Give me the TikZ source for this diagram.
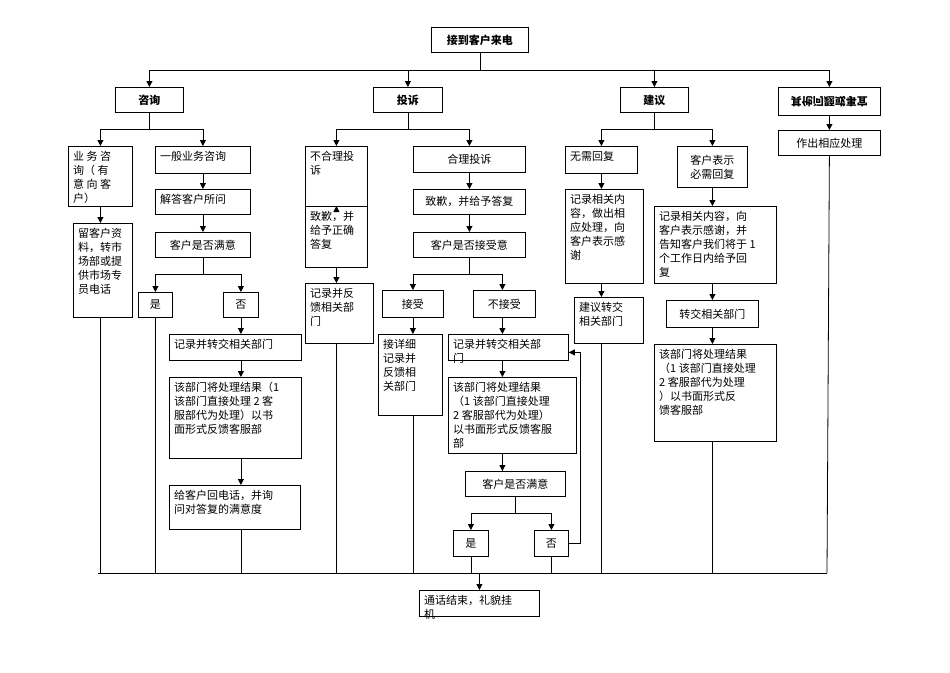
\documentclass[tikz,border=0pt]{standalone}
\usepackage{fontspec}
\setmainfont{Noto Sans CJK SC}
\usetikzlibrary{arrows.meta}
\newcommand\bx[6]{%
  \node[draw,line width=0.8pt,minimum width={(#4-#2)*1pt},minimum height={(#5-#3)*1pt},anchor=north west,inner sep=0pt] (#1) at (#2,#3) {};
  \node[anchor=north west,align=left,inner sep=0pt,txt] at ([xshift=5pt,yshift=-5pt]#1.north west) {#6};}
\newcommand\cbx[6]{%
  \node[draw,line width=0.8pt,minimum width={(#4-#2)*1pt},minimum height={(#5-#3)*1pt},anchor=north west,inner sep=0pt] (#1) at (#2,#3) {};
  \node[align=center,inner sep=0pt,txt] at (#1.center) {#6};}
\begin{document}
\begin{tikzpicture}[x=1pt,y=-1pt,
  txt/.style={font=\fontsize{11}{14}\selectfont},
  hd/.style={font=\fontsize{11}{14}\selectfont\bfseries},
  arr/.style={line width=0.8pt,-{Triangle[length=6pt,width=6pt]}},
  ln/.style={line width=0.8pt}]
\useasboundingbox (0,0) rectangle (950,672);
% top
\cbx{top}{431}{27}{528}{52}{\bfseries 接到客户来电}
\cbx{zx}{115}{87}{183}{112}{\bfseries 咨询}
\cbx{ts}{373}{87}{442}{112}{\bfseries 投诉}
\cbx{jy}{620}{87}{688}{112}{\bfseries 建议}
\cbx{qt}{778}{87}{880}{115}{\bfseries\scalebox{1}[-1]{其他问题或事宜}}
\foreach \c in {zx,ts,jy,qt} \draw[arr] (top.south) -- (top.south|-0,70) -| (\c.north);
% consult
\bx{yw}{68}{146}{132}{206}{业 务 咨\\询（ 有\\意 向 客\\户）}
\bx{ly}{73}{223}{132}{317}{留客户资\\料，转市\\场部或提\\供市场专\\员电话}
\bx{yb}{155}{146}{250}{173}{一般业务咨询}
\bx{jd}{155}{189}{250}{214}{解答客户所问}
\cbx{my1}{155}{232}{250}{257}{客户是否满意}
\cbx{yes1}{138}{292}{172}{317}{是}
\cbx{no1}{223}{292}{258}{317}{否}
\bx{zj1}{169}{334}{301}{360}{记录并转交相关部门}
\bx{cl1}{169}{377}{301}{458}{该部门将处理结果（1\\该部门直接处理 2 客\\服部代为处理）以书\\面形式反馈客服部}
\bx{hd1}{169}{485}{300}{529}{给客户回电话，并询\\问对答复的满意度}
\draw[arr] (zx.south) -- ++(0,17) -| (yw.north);
\draw[arr] (zx.south) -- ++(0,17) -| (yb.north);
\draw[arr] (yw.south) -- (ly.north-|yw.south);
\draw[arr] (yb) -- (jd);
\draw[arr] (jd) -- (my1);
\draw[arr] (my1.south) -- ++(0,17) -| (yes1.north);
\draw[arr] (my1.south) -- ++(0,17) -| (no1.north);
\draw[arr] (no1.south) -- (zj1.north-|no1.south);
\draw[arr] (zj1.south-|no1.south) -- (cl1.north-|no1.south);
\draw[arr] (cl1.south-|no1.south) -- (hd1.north-|no1.south);
% complaint
\bx{bh}{305}{146}{367}{206}{不合理投\\诉}
\bx{dq}{305}{206}{367}{267}{致歉，并\\给予正确\\答复}
\bx{fk}{305}{283}{373}{343}{记录并反\\馈相关部\\门}
\cbx{hl}{413}{146}{525}{172}{合理投诉}
\cbx{dy}{413}{189}{525}{214}{致歉，并给予答复}
\cbx{js}{413}{232}{525}{257}{客户是否接受意}
\cbx{ac}{382}{290}{443}{317}{接受}
\cbx{na}{473}{290}{535}{317}{不接受}
\bx{xx}{378}{334}{442}{415}{接详细\\记录并\\反馈相\\关部门}
\bx{zj2}{448}{334}{568}{360}{记录并转交相关部\\门}
\bx{cl2}{448}{377}{576}{453}{该部门将处理结果\\（1 该部门直接处理\\2 客服部代为处理）\\以书面形式反馈客服\\部}
\cbx{my2}{465}{471}{565}{496}{客户是否满意}
\cbx{yes2}{453}{530}{488}{556}{是}
\cbx{no2}{534}{530}{568}{556}{否}
\draw[arr] (ts.south) -- ++(0,17) -| (bh.north);
\draw[arr] (ts.south) -- ++(0,17) -| (hl.north);
\draw[arr] (bh.south) -- (dq.north);
\draw[arr] (dq.south) -- (fk.north-|dq.south);
\draw[arr] (hl) -- (dy);
\draw[arr] (dy) -- (js);
\draw[arr] (js.south) -- ++(0,17) -| (ac.north);
\draw[arr] (js.south) -- ++(0,17) -| ([xshift=-2pt]na.north);
\draw[arr] (ac.south) -- (xx.north-|ac.south);
\draw[arr] ([xshift=-2pt]na.south) -- ([xshift=-2pt]zj2.north-|na.south);
\draw[arr] ([xshift=-2pt]zj2.south-|na.south) -- ([xshift=-2pt]cl2.north-|na.south);
\draw[arr] ([xshift=-2pt]cl2.south-|na.south) -- ([xshift=-2pt]my2.north-|na.south);
\draw[arr] (my2.south) -- ++(0,17) -| (yes2.north);
\draw[arr] (my2.south) -- ++(0,17) -| (no2.north);
\draw[arr] (no2.east) -- ++(12,0) |- ([yshift=-5pt]zj2.east);
% suggestion
\bx{wx}{565}{146}{637}{173}{无需回复}
\bx{jl}{565}{189}{643}{283}{记录相关内\\容，做出相\\应处理，向\\客户表示感\\谢}
\bx{jz}{574}{297}{643}{343}{建议转交\\相关部门}
\cbx{bx}{677}{146}{747}{187}{客户表示\\必需回复}
\bx{jl2}{654}{206}{776}{283}{记录相关内容，向\\客户表示感谢，并\\告知客户我们将于 1\\个工作日内给予回\\复}
\cbx{zx2}{666}{300}{758}{327}{转交相关部门}
\bx{cl3}{654}{344}{776}{441}{该部门将处理结果\\（1 该部门直接处理\\2 客服部代为处理\\）以书面形式反\\馈客服部}
\draw[arr] (jy.south) -- ++(0,17) -| (wx.north);
\draw[arr] (jy.south) -- ++(0,17) -| (bx.north);
\draw[arr] (wx.south) -- (jl.north-|wx.south);
\draw[arr] (wx.south|-jl.south) -- (jz.north-|wx.south);
\draw[arr] (bx.south) -- (jl2.north-|bx.south);
\draw[arr] (bx.south|-jl2.south) -- (zx2.north-|bx.south);
\draw[arr] (bx.south|-zx2.south) -- (cl3.north-|bx.south);
% other
\cbx{zc}{778}{130}{880}{155}{作出相应处理}
\draw[arr] (qt) -- (zc);
% end
\bx{end}{419}{590}{539}{616}{通话结束，礼貌挂\\机}
\coordinate (bl) at (98,573);
\coordinate (br) at (827,573);
\draw[ln] (bl) -- (br);
\draw[ln] (yw.south|-ly.south) -- (yw.south|-bl);
\draw[ln] (yes1.south) -- (yes1.south|-bl);
\draw[ln] (no1.south|-hd1.south) -- (no1.south|-bl);
\draw[ln] (fk.south-|dq.south) -- (dq.south|-bl);
\draw[ln] (xx.south-|ac.south) -- (ac.south|-bl);
\draw[ln] (yes2.south) -- (yes2.south|-bl);
\draw[ln] (no2.south) -- (no2.south|-bl);
\draw[ln] (jz.south-|wx.south) -- (wx.south|-bl);
\draw[ln] (cl3.south-|bx.south) -- (bx.south|-bl);
\draw[ln] (zc.south) -- (br);
\draw[arr] (end.north|-bl) -- (end.north);
\end{tikzpicture}
\end{document}
